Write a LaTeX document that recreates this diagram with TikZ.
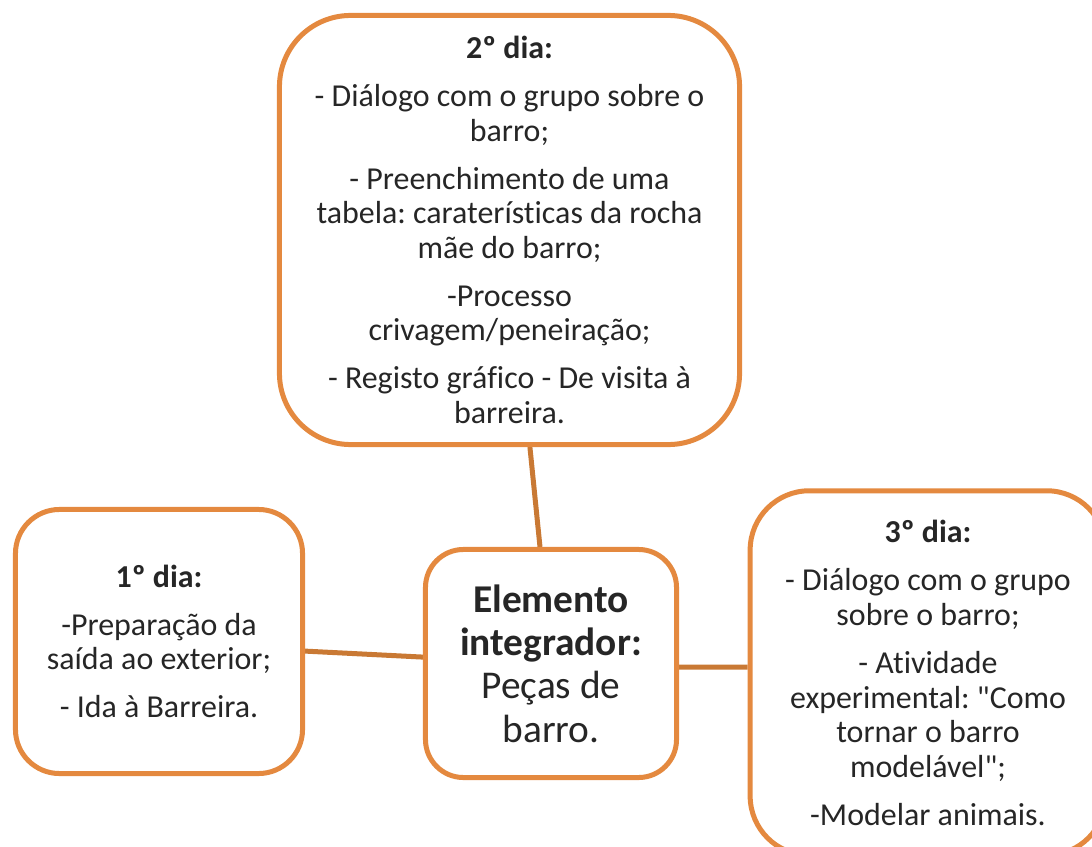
\documentclass[tikz,border=0pt]{standalone}
\usepackage{fontspec}
\setmainfont{Carlito}[Ligatures={CommonOff,TeXOff}]
\usetikzlibrary{positioning}
\usetikzlibrary{backgrounds}
\definecolor{boxorange}{HTML}{E4893F}
\definecolor{lineorange}{HTML}{C97934}
\frenchspacing

\begin{document}
\begin{tikzpicture}[x=0.025cm,y=-0.025cm,
  daybox/.style={rectangle,draw=boxorange,line width=0.125cm,fill=white,align=center,inner sep=0pt,text=black!85,font=\fontsize{22.7}{24.6}\selectfont},
  link/.style={draw=lineorange,line width=0.125cm}]
\useasboundingbox (0,0) rectangle (1092,847);

\node[daybox,rounded corners=1.78cm,minimum width=11.5cm,minimum height=10.725cm] (dia2) at (509.5,230) {\textbf{2º dia:}\\[9.5pt]- Diálogo com o grupo sobre o\\barro;\\[9.5pt]- Preenchimento de uma\\tabela: caraterísticas da rocha\\mãe do barro;\\[9.5pt]-Processo\\crivagem/peneiração;\\[9.5pt]- Registo gráfico - De visita à\\barreira.};
\node[daybox,rounded corners=1.1cm,minimum width=7.175cm,minimum height=6.6cm] (dia1) at (159,641.5) {\textbf{1º dia:}\\[9.5pt]-Preparação da\\saída ao exterior;\\[9.5pt]- Ida à Barreira.};
\node[daybox,rounded corners=0.95cm,minimum width=6.275cm,minimum height=5.7cm,font=\fontsize{28}{30.8}\selectfont] (elem) at (551,663.5) {\textbf{Elemento}\\\textbf{integrador:}\\Peças de\\barro.};
\node[daybox,rounded corners=1.48cm,minimum width=8.89cm,minimum height=9.11cm] (dia3) at (928,673) {\textbf{3º dia:}\\[9.5pt]- Diálogo com o grupo\\sobre o barro;\\[9.5pt]- Atividade\\experimental: "Como\\tornar o barro\\modelável";\\[9.5pt]-Modelar animais.};

\begin{scope}[on background layer]
\draw[link] ([xshift=0.51cm]dia2.south) -- ([xshift=-0.275cm]elem.north);
\draw[link] ([yshift=-0.24cm]dia1.east) -- ([yshift=0.16cm]elem.west);
\draw[link] ([yshift=-0.09cm]elem.east) -- ([yshift=0.15cm]dia3.west);
\end{scope}

\end{tikzpicture}
\end{document}
